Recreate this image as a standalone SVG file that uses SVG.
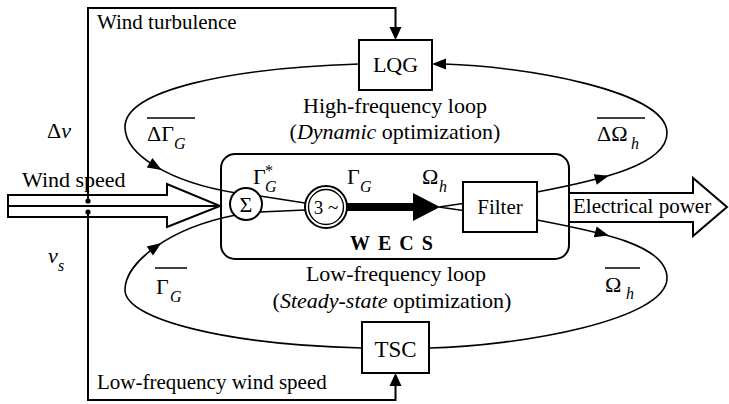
<svg xmlns="http://www.w3.org/2000/svg" width="729" height="404" viewBox="0 0 729 404" font-family="'Liberation Serif', 'DejaVu Serif', serif">
<style>
text{font-family:'Liberation Serif','DejaVu Serif',serif;fill:#000}
.t21{font-size:21px}
.t22{font-size:22px}
.sub{font-size:16px;font-style:italic}
.it{font-style:italic}
.ln{fill:none;stroke:#000;stroke-width:2}
.lp{fill:none;stroke:#000;stroke-width:1.6}
.box{fill:#fff;stroke:#000;stroke-width:2}
.ah{fill:#000;stroke:none}
</style>
<rect width="729" height="404" fill="#fff"/>

<g id="connectors">
  <path class="ln" d="M88,201 V8 H395.5 V28"/>
  <polygon class="ah" points="395.5,40 389.5,27 401.5,27"/>
  <path class="ln" d="M88,212 V400 H395.5 V385"/>
  <polygon class="ah" points="395.5,373 389.5,386 401.5,386"/>
  <circle cx="88" cy="201" r="2.6" fill="#000"/>
  <circle cx="88" cy="212" r="2.6" fill="#000"/>
  <path class="lp" d="M359,64 C230,68 125,90 125,127 C125,155 170,182 234.7,192.7"/>
  <polygon class="ah" transform="translate(155.6,166.4) rotate(31)" points="7,0 -7,-5.5 -7,5.5"/>
  <path class="lp" d="M537,192 C600,180 667,165 667,133 C667,90 520,66 444,64"/>
  <polygon class="ah" points="432,64 446,58.5 446,69.5"/>
  <polygon class="ah" transform="translate(602,177.6) rotate(-15.5)" points="7,0 -7,-5.5 -7,5.5"/>
  <path class="lp" d="M537,220 C600,232 667,245 667,278 C667,320 520,346 429,348"/>
  <polygon class="ah" transform="translate(602,233.7) rotate(14.7)" points="7,0 -7,-5.5 -7,5.5"/>
  <path class="lp" d="M362,348 C230,345 125,320 125,290 C125,262 170,228 234.7,215.3"/>
  <polygon class="ah" transform="translate(155.6,246.9) rotate(-35)" points="7,0 -7,-5.5 -7,5.5"/>
  <path class="lp" d="M259.9,196 L305,203 M259.9,212 L305,210"/>
  <rect x="347" y="203" width="68" height="8" fill="#000"/>
  <polygon class="ah" points="413,193 440,207 413,221"/>
  <path class="lp" d="M439,207 L463,203.5 M439,207 L463,210.5"/>
</g>

<g id="wind-speed-arrow">
  <path class="ln" d="M8,195 H167 V184 L220,206 L167,227 V217 H8 Z"/>
  <path class="ln" d="M8,206 H217"/>
  <text class="t22" x="22" y="187">Wind speed</text>
</g>

<g id="electrical-power-arrow">
  <path class="ln" d="M569,193 H693 V178 L727,207 L693,236 V222 H569"/>
  <text class="t21" x="573" y="213">Electrical power</text>
</g>

<g id="wecs">
  <rect x="221" y="154" width="348" height="105" rx="14" class="ln"/>
  <text x="350" y="250" style="font-size:20px;font-weight:bold;letter-spacing:8px">WECS</text>
  <text class="t22" x="253" y="184">Γ</text>
  <text class="sub" x="265" y="192">G</text>
  <text style="font-size:16px" x="265" y="176">*</text>
  <text class="t22" x="347" y="184">Γ</text>
  <text class="sub" x="360" y="192">G</text>
  <text class="t22" x="422" y="184">Ω</text>
  <text class="sub" x="439" y="192">h</text>
</g>

<g id="sigma">
  <circle cx="246" cy="204" r="16" class="box"/>
  <text class="t22" x="246" y="212" text-anchor="middle">Σ</text>
</g>

<g id="generator">
  <circle cx="326" cy="207" r="21" class="box"/>
  <circle cx="326" cy="207" r="17.5" fill="none" stroke="#000" stroke-width="1.4"/>
  <text x="326" y="214" text-anchor="middle" style="font-size:19px">3 ~</text>
</g>

<g id="filter">
  <rect x="463" y="182" width="74" height="50" class="box"/>
  <text class="t21" x="500" y="214" text-anchor="middle">Filter</text>
</g>

<g id="lqg">
  <rect x="359" y="40" width="73" height="50" class="box"/>
  <text class="t22" x="395.5" y="72" text-anchor="middle">LQG</text>
</g>

<g id="tsc">
  <rect x="362" y="322" width="67" height="51" class="box"/>
  <text x="395.5" y="357" text-anchor="middle" style="font-size:23px">TSC</text>
</g>

<g id="labels">
  <text class="t21" x="97" y="29">Wind turbulence</text>
  <text class="t21" x="97" y="389">Low-frequency wind speed</text>
  <text class="t22" x="47" y="138">Δ<tspan class="it">v</tspan></text>
  <text class="t22 it" x="48" y="263">v</text>
  <text class="sub" x="58" y="271">s</text>
  <text class="t22" x="395" y="113" text-anchor="middle">High-frequency loop</text>
  <text class="t22" x="395" y="139" text-anchor="middle">(<tspan class="it">Dynamic</tspan> optimization)</text>
  <text class="t22" x="396" y="281" text-anchor="middle">Low-frequency loop</text>
  <text class="t22" x="392" y="308" text-anchor="middle">(<tspan class="it">Steady-state</tspan> optimization)</text>
  <text class="t22" x="147" y="141">ΔΓ</text>
  <text class="sub" x="174" y="149">G</text>
  <line x1="147" y1="118" x2="195" y2="118" stroke="#000" stroke-width="1.5"/>
  <text class="t22" x="156" y="294">Γ</text>
  <text class="sub" x="170" y="302">G</text>
  <line x1="155" y1="268" x2="187" y2="268" stroke="#000" stroke-width="1.5"/>
  <text class="t22" x="597" y="141">ΔΩ</text>
  <text class="sub" x="631" y="149">h</text>
  <line x1="597" y1="118" x2="645" y2="118" stroke="#000" stroke-width="1.5"/>
  <text class="t22" x="605" y="292">Ω</text>
  <text class="sub" x="626" y="299">h</text>
  <line x1="605" y1="268" x2="640" y2="268" stroke="#000" stroke-width="1.5"/>
</g>
</svg>
